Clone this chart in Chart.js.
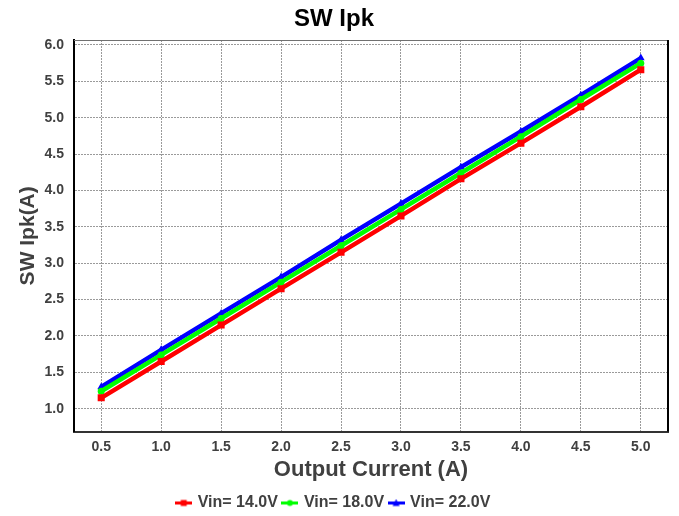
<!DOCTYPE html>
<html>
<head>
<meta charset="utf-8">
<script src="https://cdn.jsdelivr.net/npm/chart.js@4/dist/chart.umd.min.js"></script>
<style>
    html, body { margin: 0; padding: 0; background: #fff; }
</style>
</head>
<body>
<canvas id="grafico-ipk" width="679" height="516"></canvas>
<script>
// Corriente de salida (A) y pico de corriente del switch (A) para cada Vin
var corriente = [0.5, 1.0, 1.5, 2.0, 2.5, 3.0, 3.5, 4.0, 4.5, 5.0];
var ipkVin14 = [1.15, 1.65, 2.15, 2.65, 3.15, 3.65, 4.16, 4.65, 5.15, 5.66];
var ipkVin18 = [1.24, 1.74, 2.24, 2.74, 3.24, 3.74, 4.24, 4.74, 5.25, 5.75];
var ipkVin22 = [1.30, 1.81, 2.31, 2.81, 3.32, 3.82, 4.32, 4.81, 5.31, 5.82];

var etiquetas = ['Vin= 14.0V', 'Vin= 18.0V', 'Vin= 22.0V'];
var ticksX = [0.5, 1.0, 1.5, 2.0, 2.5, 3.0, 3.5, 4.0, 4.5, 5.0];
var ticksY = [1.0, 1.5, 2.0, 2.5, 3.0, 3.5, 4.0, 4.5, 5.0, 5.5, 6.0];

var fuente = "'Liberation Sans', Arial, sans-serif";
var gris = '#404040';

function puntos(valores) {
    return corriente.map(function(x, i) {
        return { x: x, y: valores[i] };
    });
}

// muestra de la leyenda: linea con el marcador en el centro
function muestra(color, estilo) {
    var c = document.createElement('canvas');
    c.width = 17;
    c.height = 9;
    var g = c.getContext('2d');
    g.strokeStyle = color;
    g.fillStyle = color;
    g.lineWidth = 3;
    g.beginPath();
    g.moveTo(0, 4.5);
    g.lineTo(17, 4.5);
    g.stroke();
    g.beginPath();
    if (estilo === 'rect') {
        g.rect(5.5, 1.5, 6, 6);
    } else if (estilo === 'circle') {
        g.arc(8.5, 4.5, 3, 0, Math.PI * 2);
    } else {
        g.moveTo(8.5, 0.5);
        g.lineTo(12, 7.5);
        g.lineTo(5, 7.5);
        g.closePath();
    }
    g.fill();
    return c;
}

var muestras = [muestra('#ff0000', 'rect'), muestra('#00ff00', 'circle'), muestra('#0000ff', 'triangle')];

// borde superior y derecho del area de trazado
var marco = {
    id: 'marco',
    afterDraw: function(chart) {
        var a = chart.chartArea;
        var ctx = chart.ctx;
        ctx.save();
        ctx.strokeStyle = '#707070';
        ctx.lineWidth = 1;
        ctx.beginPath();
        ctx.moveTo(a.left, a.top + 0.5);
        ctx.lineTo(a.right, a.top + 0.5);
        ctx.stroke();
        ctx.strokeStyle = '#000';
        ctx.lineWidth = 2;
        ctx.beginPath();
        ctx.moveTo(a.right, a.top);
        ctx.lineTo(a.right, a.bottom);
        ctx.stroke();
        ctx.restore();
    }
};

function serie(nombre, valores, color, estilo, radio) {
    return {
        label: nombre,
        data: puntos(valores),
        borderColor: color,
        backgroundColor: color,
        borderWidth: 4.5,
        pointStyle: estilo,
        pointRadius: radio,
        pointBorderWidth: 0,
        pointBackgroundColor: color,
        tension: 0
    };
}

Chart.defaults.font.family = fuente;

var ctx = document.getElementById('grafico-ipk').getContext('2d');
var grafico = new Chart(ctx, {
    type: 'line',
    data: {
        datasets: [
            serie(etiquetas[0], ipkVin14, '#ff0000', 'rect', 5),
            serie(etiquetas[1], ipkVin18, '#00ff00', 'circle', 3.5),
            serie(etiquetas[2], ipkVin22, '#0000ff', 'triangle', 4.5)
        ]
    },
    plugins: [marco],
    options: {
        responsive: false,
        animation: false,
        layout: { padding: { left: 0, right: 11, top: 0, bottom: -5 } },
        plugins: {
            title: {
                display: true,
                text: 'SW Ipk',
                color: '#000',
                font: { size: 24, weight: 'bold' },
                padding: { top: 4.6, bottom: 6.6 }
            },
            legend: {
                position: 'bottom',
                labels: {
                    usePointStyle: true,
                    pointStyleWidth: 12,
                    padding: 6,
                    color: gris,
                    font: { size: 16, weight: 'bold' },
                    generateLabels: function(chart) {
                        var items = Chart.defaults.plugins.legend.labels.generateLabels(chart);
                        items.forEach(function(it, i) {
                            it.pointStyle = muestras[i];
                        });
                        return items;
                    }
                }
            },
            tooltip: { enabled: false }
        },
        scales: {
            x: {
                type: 'linear',
                min: 0.273,
                max: 5.227,
                afterBuildTicks: function(eje) {
                    eje.ticks = ticksX.map(function(v) { return { value: v }; });
                },
                afterFit: function(eje) { eje.height = 57.4; },
                ticks: {
                    color: gris,
                    padding: 7,
                    font: { size: 14, weight: 'bold' },
                    callback: function(v) { return v.toFixed(1); }
                },
                grid: { color: '#9a9a9a', lineWidth: 1, drawTicks: false },
                border: { display: true, color: '#333', width: 2, dash: [2, 1] },
                title: {
                    display: true,
                    text: 'Output Current (A)',
                    color: gris,
                    font: { size: 22, weight: 'bold' },
                    padding: { top: 0, bottom: 5.7 }
                }
            },
            y: {
                min: 0.686,
                max: 6.068,
                afterBuildTicks: function(eje) {
                    eje.ticks = ticksY.map(function(v) { return { value: v }; });
                },
                afterFit: function(eje) { eje.width = 74; },
                ticks: {
                    color: gris,
                    padding: 10,
                    font: { size: 14, weight: 'bold' },
                    callback: function(v) { return v.toFixed(1); }
                },
                grid: { color: '#9a9a9a', lineWidth: 1, drawTicks: false },
                border: { display: true, color: '#000', width: 2, dash: [2, 1] },
                title: {
                    display: true,
                    text: 'SW Ipk(A)',
                    color: gris,
                    font: { size: 21, weight: 'bold' },
                    padding: { top: 15.4, bottom: 0 }
                }
            }
        }
    }
});
</script>
</body>
</html>
